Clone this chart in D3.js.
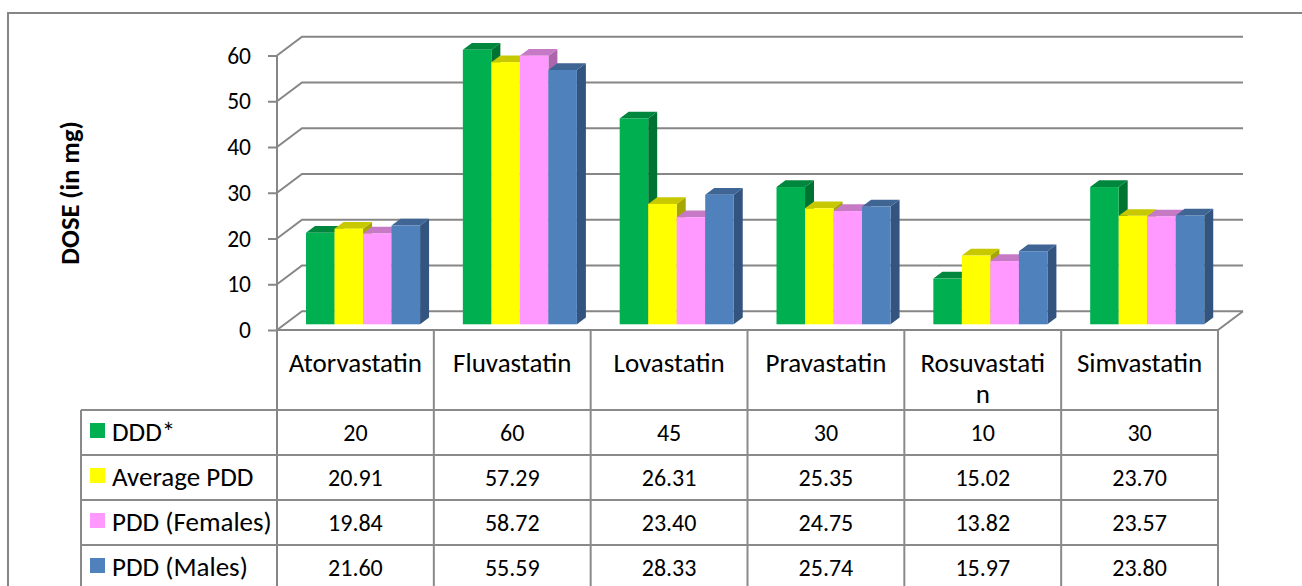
<!DOCTYPE html>
<html>
<head>
<meta charset="utf-8">
<script src="https://cdn.jsdelivr.net/npm/d3@7"></script>
<style>
  html, body { margin: 0; padding: 0; background: #fff; }
  svg { display: block; }
  text { font-family: Carlito, Calibri, Lato, sans-serif; fill: #000; }
</style>
</head>
<body>
<svg id="chart" width="1302" height="586"></svg>
<script>
// Statin dose per drug: defined daily dose vs prescribed daily doses
const categories = ["Atorvastatin", "Fluvastatin", "Lovastatin", "Pravastatin", "Rosuvastatin", "Simvastatin"];
const categoryLines = [["Atorvastatin"], ["Fluvastatin"], ["Lovastatin"], ["Pravastatin"], ["Rosuvastati", "n"], ["Simvastatin"]];
const seriesNames = ["DDD*", "Average PDD", "PDD (Females)", "PDD (Males)"];
const dddValues = [20, 60, 45, 30, 10, 30];
const avgPddValues = [20.91, 57.29, 26.31, 25.35, 15.02, 23.70];
const femalePddValues = [19.84, 58.72, 23.40, 24.75, 13.82, 23.57];
const malePddValues = [21.60, 55.59, 28.33, 25.74, 15.97, 23.80];
const yTicks = [0, 10, 20, 30, 40, 50, 60];
const yTitle = "DOSE (in mg)";

const seriesValues = [dddValues, avgPddValues, femalePddValues, malePddValues];
const seriesFormat = [d3.format("d"), d3.format(".2f"), d3.format(".2f"), d3.format(".2f")];
const palette = [
  { front: "#00B050", top: "#00873D", side: "#007332" },
  { front: "#FFFF00", top: "#C8C800", side: "#A6A600" },
  { front: "#FF99FF", top: "#C67AC6", side: "#AD66AD" },
  { front: "#4F81BD", top: "#3E6594", side: "#33547E" }
];

const svg = d3.select("#chart");
const grid = "#868686";
const fontFamily = "Carlito, Calibri, Lato, sans-serif";
const labelSize = 27, numberSize = 24, tickSize = 23.5, titleSize = 26.5;

// Plot geometry (front plane of the 3D box)
const plotLeft = 277, plotRight = 1218, floorY = 330;
const depthDX = 25, depthDY = -18.7;
const barZ0 = 0.305, barZ1 = 0.665;

const x = d3.scaleBand().domain(categories).range([plotLeft, plotRight]).padding(0);
const xs = d3.scaleBand().domain(seriesNames).range([0, x.bandwidth()]).paddingInner(0).paddingOuter(0.75);
const y = d3.scaleLinear().domain([0, 60]).range([floorY, 55.5]);

// Outer frame
svg.append("rect").attr("x", 8).attr("y", 13).attr("width", 1320).attr("height", 620)
  .attr("fill", "none").attr("stroke", grid).attr("stroke-width", 2);

// Gridlines: side wall diagonal + back wall
const gl = svg.append("g").attr("fill", "none").attr("stroke", grid).attr("stroke-width", 2);
yTicks.forEach(v => {
  const yf = y(v), yb = y(v) + depthDY;
  gl.append("path").attr("d", `M${plotLeft},${yf}L${plotLeft + depthDX},${yb}L${plotRight + depthDX},${yb}`);
});
// Floor front and right edges
gl.append("path").attr("d", `M${plotLeft},${floorY}L${plotRight},${floorY}L${plotRight + depthDX},${floorY + depthDY}`);

// Y axis
const yAxis = d3.axisLeft(y).tickValues(yTicks).tickSize(9).tickPadding(17).tickFormat(d3.format("d"));
const ya = svg.append("g").attr("transform", `translate(${plotLeft},0)`).call(yAxis);
ya.select(".domain").remove();
ya.selectAll(".tick line").attr("stroke", grid).attr("stroke-width", 2);
ya.selectAll(".tick text").attr("font-size", tickSize).style("font-family", fontFamily).attr("fill", "#000");
svg.append("line").attr("x1", plotLeft).attr("x2", plotLeft).attr("y1", y(60)).attr("y2", 590)
  .attr("stroke", grid).attr("stroke-width", 2);

// Axis title
svg.append("text").attr("transform", "translate(79,193) rotate(-90)")
  .attr("text-anchor", "middle").attr("font-size", titleSize).attr("font-weight", "bold").text(yTitle);

// 3D bars
const bars = svg.append("g");
categories.forEach((cat, ci) => {
  seriesNames.forEach((s, si) => {
    const v = seriesValues[si][ci];
    const c = palette[si];
    const x0 = x(cat) + xs(s) + depthDX * barZ0;
    const x1 = x0 + xs.bandwidth();
    const yb = y(0) + depthDY * barZ0;
    const yt = y(v) + depthDY * barZ0;
    const ddx = depthDX * (barZ1 - barZ0), ddy = depthDY * (barZ1 - barZ0);
    const g = bars.append("g");
    g.append("path").attr("fill", c.side)
      .attr("d", `M${x1},${yt}L${x1 + ddx},${yt + ddy}L${x1 + ddx},${yb + ddy}L${x1},${yb}Z`);
    g.append("path").attr("fill", c.top)
      .attr("d", `M${x0},${yt}L${x1},${yt}L${x1 + ddx},${yt + ddy}L${x0 + ddx},${yt + ddy}Z`);
    g.append("rect").attr("x", x0).attr("y", yt).attr("width", xs.bandwidth()).attr("height", yb - yt)
      .attr("fill", c.front);
  });
});

// Data table
const legendLeft = 81, headerBottom = 410, rowH = 45;
const tbl = svg.append("g").attr("stroke", "#8A8A8A").attr("stroke-width", 2).attr("fill", "none");
categories.forEach((cat, ci) => {
  const xr = x(cat) + x.bandwidth();
  tbl.append("line").attr("x1", xr).attr("x2", xr).attr("y1", floorY).attr("y2", 590);
});
tbl.append("line").attr("x1", legendLeft).attr("x2", legendLeft).attr("y1", headerBottom).attr("y2", 590);
d3.range(seriesNames.length + 1).forEach(i => {
  const yy = headerBottom + i * rowH;
  tbl.append("line").attr("x1", legendLeft).attr("x2", plotRight).attr("y1", yy).attr("y2", yy);
});

// Header labels
categories.forEach((cat, ci) => {
  const cx = x(cat) + x.bandwidth() / 2;
  const t = svg.append("text").attr("text-anchor", "middle").attr("font-size", labelSize);
  categoryLines[ci].forEach((ln, li) => {
    t.append("tspan").attr("x", cx).attr("y", 372 + li * 31).text(ln);
  });
});

// Rows: legend key + values
seriesNames.forEach((s, si) => {
  const top = headerBottom + si * rowH;
  svg.append("rect").attr("x", 90).attr("y", top + 13).attr("width", 15).attr("height", 15)
    .attr("fill", palette[si].front);
  svg.append("text").attr("x", 112).attr("y", top + 31).attr("font-size", labelSize).text(s);
  categories.forEach((cat, ci) => {
    svg.append("text").attr("text-anchor", "middle").attr("font-size", numberSize)
      .attr("x", x(cat) + x.bandwidth() / 2).attr("y", top + 31)
      .text(seriesFormat[si](seriesValues[si][ci]));
  });
});
</script>
</body>
</html>
